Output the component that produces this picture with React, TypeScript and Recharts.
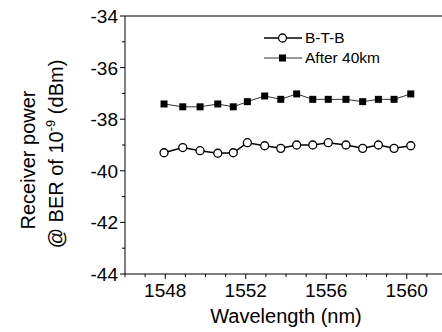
import {
  LineChart,
  Line,
  XAxis,
  YAxis,
  Legend,
  ReferenceLine,
} from "recharts";

const wavelength = [
  1547.94, 1548.87, 1549.73, 1550.61, 1551.38, 1552.08, 1552.94, 1553.74,
  1554.53, 1555.33, 1556.1, 1556.98, 1557.81, 1558.59, 1559.37, 1560.2,
];
const btb = [
  -39.3, -39.1, -39.22, -39.32, -39.3, -38.91, -39.03, -39.13, -39.0, -39.0,
  -38.91, -39.0, -39.13, -39.0, -39.13, -39.03,
];
const after40km = [
  -37.41, -37.52, -37.52, -37.41, -37.52, -37.32, -37.1, -37.23, -37.02,
  -37.23, -37.23, -37.23, -37.32, -37.23, -37.23, -37.02,
];
const xTicks = [
  1546, 1547, 1548, 1549, 1550, 1551, 1552, 1553, 1554, 1555, 1556, 1557,
  1558, 1559, 1560, 1561, 1562,
];
const xLabels = [1548, 1552, 1556, 1560];
const yTicks = [-44, -43, -42, -41, -40, -39, -38, -37, -36, -35, -34];
const yLabels = [-44, -42, -40, -38, -36, -34];

const data = wavelength.map((wl, i) => ({
  wl,
  btb: btb[i],
  after: after40km[i],
}));

const FONT = "'Liberation Sans', Arial, sans-serif";

const XTick = (props: any) => {
  const { x, y, payload } = props;
  const major = xLabels.includes(payload.value);
  return (
    <g>
      <line x1={x} x2={x} y1={y} y2={y + (major ? 5 : 3)} stroke="#000" />
      {major && (
        <text
          x={x}
          y={y + 23}
          textAnchor="middle"
          fontSize={19}
          fontFamily={FONT}
          fill="#000"
        >
          {payload.value}
        </text>
      )}
    </g>
  );
};

const YTick = (props: any) => {
  const { x, y, payload } = props;
  const major = yLabels.includes(payload.value);
  return (
    <g>
      <line x1={x} x2={x - (major ? 5 : 3)} y1={y} y2={y} stroke="#000" />
      {major && (
        <text
          x={x - 7}
          y={y + 7}
          textAnchor="end"
          fontSize={19}
          fontFamily={FONT}
          fill="#000"
        >
          {payload.value}
        </text>
      )}
    </g>
  );
};

const YTitle = () => (
  <g fontFamily={FONT} fontSize={20} fill="#000">
    <text transform="translate(35,160) rotate(-90)" textAnchor="middle">
      Receiver power
    </text>
    <text transform="translate(63,154) rotate(-90)" textAnchor="middle">
      @ BER of 10
      <tspan dy={-8} fontSize={13}>
        -9
      </tspan>
      <tspan dy={8}> (dBm)</tspan>
    </text>
  </g>
);

const XTitle = (props: any) => {
  const { viewBox } = props;
  return (
    <text
      x={viewBox.x + viewBox.width / 2}
      y={323}
      textAnchor="middle"
      fontSize={20}
      fontFamily={FONT}
      fill="#000"
    >
      Wavelength (nm)
    </text>
  );
};

const Square = (props: any) => {
  const { cx, cy } = props;
  if (cx == null || cy == null) return null;
  return <rect x={cx - 3.5} y={cy - 3.5} width={7} height={7} fill="#000" />;
};

const LegendBox = () => (
  <svg width={180} height={45}>
    <g fontFamily={FONT} fontSize={15.5} fill="#000">
      <line x1={4} x2={42} y1={12} y2={12} stroke="#000" strokeWidth={1.5} />
      <circle cx={22.5} cy={12} r={4} fill="#fff" stroke="#000" strokeWidth={1.3} />
      <text x={45} y={17}>B-T-B</text>
      <line x1={4} x2={42} y1={32} y2={32} stroke="#333" strokeWidth={1} />
      <rect x={19} y={28.5} width={7} height={7} fill="#000" />
      <text x={45} y={37}>After 40km</text>
    </g>
  </svg>
);

export default function App() {
  return (
    <div style={{ position: "absolute", left: 0, top: 0 }}>
      <LineChart
        width={442}
        height={332}
        data={data}
        margin={{ top: 16, right: -5, bottom: 0, left: 0 }}
      >
        <XAxis
          dataKey="wl"
          type="number"
          domain={[1546, 1562]}
          ticks={xTicks}
          interval={0}
          tick={<XTick />}
          tickLine={false}
          tickSize={0}
          tickMargin={0}
          height={58}
          axisLine={{ stroke: "#000" }}
          label={<XTitle />}
        />
        <YAxis
          type="number"
          domain={[-44, -34]}
          ticks={yTicks}
          interval={0}
          tick={<YTick />}
          tickLine={false}
          tickSize={0}
          tickMargin={0}
          width={125}
          axisLine={{ stroke: "#000" }}
          label={<YTitle />}
        />
        <ReferenceLine y={-34} stroke="#000" />
        <Legend
          layout="horizontal"
          verticalAlign="middle"
          content={<LegendBox />}
          wrapperStyle={{ top: 26, left: 260, width: 180, height: 45 }}
        />
        <Line
          dataKey="after"
          stroke="#333"
          strokeWidth={1}
          dot={<Square />}
          activeDot={false}
          isAnimationActive={false}
        />
        <Line
          dataKey="btb"
          stroke="#000"
          strokeWidth={1.5}
          dot={{ r: 4, fill: "#fff", stroke: "#000", strokeWidth: 1.3 }}
          activeDot={false}
          isAnimationActive={false}
        />
      </LineChart>
    </div>
  );
}
